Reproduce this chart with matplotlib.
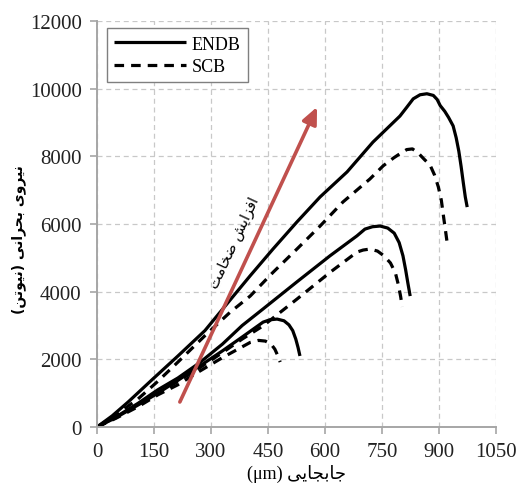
import matplotlib
matplotlib.use("Agg")
import matplotlib.pyplot as plt

# ENDB / SCB force-displacement curves (um, N)
endb_thick_x = [0, 40, 82, 147, 213, 284, 350, 403, 463, 526, 587, 658, 726, 797, 815, 832, 850, 868, 885, 895, 903,
                915, 925, 937, 945, 952, 958, 964, 969, 974]
endb_thick_y = [0, 330, 740, 1420, 2100, 2850, 3750, 4470, 5260, 6060, 6800, 7540, 8420, 9190, 9450, 9700, 9820, 9850,
                9800, 9680, 9500, 9330, 9150, 8900, 8550, 8150, 7700, 7200, 6800, 6500]
scb_thick_x = [0, 50, 108, 160, 213, 284, 350, 403, 463, 526, 587, 647, 718, 753, 780, 800, 815, 830, 845, 862, 876,
               888, 898, 906, 912, 917, 921]
scb_thick_y = [0, 360, 830, 1350, 1920, 2700, 3390, 3870, 4570, 5260, 5940, 6650, 7330, 7720, 7950, 8100, 8200, 8220,
               8100, 7900, 7750, 7450, 7100, 6700, 6200, 5800, 5470]

endb_mid_x = [0, 50, 108, 160, 213, 270, 330, 382, 437, 526, 613, 684, 705, 725, 745, 765, 782, 795, 805, 812, 818, 824]
endb_mid_y = [0, 300, 700, 1100, 1450, 1900, 2450, 3000, 3490, 4290, 5060, 5650, 5850, 5920, 5940, 5880, 5730, 5450,
              5060, 4650, 4250, 3870]
scb_mid_x = [0, 50, 108, 160, 213, 270, 330, 382, 437, 526, 613, 684, 700, 718, 738, 755, 772, 785, 793, 799, 803]
scb_mid_y = [0, 280, 650, 1000, 1350, 1750, 2200, 2600, 2990, 3780, 4570, 5170, 5230, 5260, 5200, 5060, 4850, 4560,
             4200, 3850, 3550]

endb_thin_x = [0, 50, 108, 160, 213, 270, 330, 382, 437, 455, 474, 492, 505, 515, 523, 529, 534]
endb_thin_y = [0, 280, 650, 1000, 1380, 1800, 2250, 2660, 3100, 3170, 3190, 3140, 3020, 2850, 2600, 2350, 2100]
scb_thin_x = [0, 50, 108, 160, 213, 270, 330, 382, 403, 425, 443, 458, 468, 476, 482]
scb_thin_y = [0, 260, 600, 950, 1250, 1650, 2050, 2370, 2500, 2560, 2540, 2450, 2300, 2100, 1920]

x_ticks = [0, 150, 300, 450, 600, 750, 900, 1050]
y_ticks = [0, 2000, 4000, 6000, 8000, 10000, 12000]

arrow_from = (218, 740)
arrow_to = (579, 9460)
arrow_label_at = (362, 5480)

# matplotlib has no Arabic shaping, so build the presentation forms by hand
FORMS = {  # isolated, final, initial, medial
    "ا": ("\uFE8D", "\uFE8E", None, None),
    "ب": ("\uFE8F", "\uFE90", "\uFE91", "\uFE92"),
    "ت": ("\uFE95", "\uFE96", "\uFE97", "\uFE98"),
    "ج": ("\uFE9D", "\uFE9E", "\uFE9F", "\uFEA0"),
    "ح": ("\uFEA1", "\uFEA2", "\uFEA3", "\uFEA4"),
    "خ": ("\uFEA5", "\uFEA6", "\uFEA7", "\uFEA8"),
    "ر": ("\uFEAD", "\uFEAE", None, None),
    "ز": ("\uFEAF", "\uFEB0", None, None),
    "ش": ("\uFEB5", "\uFEB6", "\uFEB7", "\uFEB8"),
    "ض": ("\uFEBD", "\uFEBE", "\uFEBF", "\uFEC0"),
    "ف": ("\uFED1", "\uFED2", "\uFED3", "\uFED4"),
    "م": ("\uFEE1", "\uFEE2", "\uFEE3", "\uFEE4"),
    "ن": ("\uFEE5", "\uFEE6", "\uFEE7", "\uFEE8"),
    "و": ("\uFEED", "\uFEEE", None, None),
    "ی": ("\uFEEF", "\uFEF0", "\uFEF3", "\uFEF4"),
}
DUAL = {k for k, v in FORMS.items() if v[2] is not None}


def fa(text):
    out = []
    for i, c in enumerate(text):
        if c not in FORMS:
            out.append({"(": ")", ")": "("}.get(c, c))
            continue
        prev_join = i > 0 and text[i - 1] in DUAL
        next_join = c in DUAL and i + 1 < len(text) and text[i + 1] in FORMS
        iso, fin, ini, med = FORMS[c]
        if prev_join and next_join:
            out.append(med)
        elif prev_join:
            out.append(fin)
        elif next_join:
            out.append(ini)
        else:
            out.append(iso)
    return "".join(reversed(out))


serif = ["Liberation Serif", "DejaVu Sans"]
fig = plt.figure(figsize=(5.2, 4.89), dpi=100)
ax = fig.add_axes([0.1865, 0.1247, 0.7675, 0.8303])

solid = dict(color="black", linewidth=2.3, solid_capstyle="butt", solid_joinstyle="round")
dashed = dict(color="black", linewidth=2.3, linestyle=(0, (3, 2.2)))
ax.plot(endb_thick_x, endb_thick_y, label="ENDB", **solid)
ax.plot(scb_thick_x, scb_thick_y, label="SCB", **dashed)
ax.plot(endb_mid_x, endb_mid_y, **solid)
ax.plot(scb_mid_x, scb_mid_y, **dashed)
ax.plot(endb_thin_x, endb_thin_y, **solid)
ax.plot(scb_thin_x, scb_thin_y, **dashed)

ax.annotate("", xy=arrow_to, xytext=arrow_from,
            arrowprops=dict(arrowstyle="-|>,head_length=1.0,head_width=0.45",
                            color="#c0504d", linewidth=2.6, shrinkA=0, shrinkB=0))
ax.text(*arrow_label_at, fa("افزایش ضخامت"), rotation=65, rotation_mode="anchor",
        ha="center", va="center", fontsize=10.5, family="DejaVu Sans")

ax.set_xlim(0, 1050)
ax.set_ylim(0, 12000)
ax.set_xticks(x_ticks)
ax.set_yticks(y_ticks)
for lab in ax.get_xticklabels() + ax.get_yticklabels():
    lab.set_family(serif)
    lab.set_fontsize(15)
    lab.set_color("#222222")
ax.tick_params(length=5, width=1.2, color="#a6a6a6", pad=6)
ax.grid(True, linestyle=(0, (4, 3)), color="#c8c8c8", linewidth=0.9)
for side in ("top", "right"):
    ax.spines[side].set_visible(False)
for side in ("left", "bottom"):
    ax.spines[side].set_color("#a6a6a6")
    ax.spines[side].set_linewidth(1.4)

ax.set_xlabel("(μm) " + fa("جابجایی"), family=serif, fontsize=13, labelpad=2)
ax.set_ylabel(fa("نیروی بحرانی (نیوتن)"), family="DejaVu Sans", fontsize=10,
              fontweight="bold")
ax.yaxis.set_label_coords(-0.177, 0.463)

leg = ax.legend(loc="upper left", bbox_to_anchor=(0.025, 0.982), borderaxespad=0,
                handlelength=4.0, fancybox=False, edgecolor="#7f7f7f", framealpha=1,
                prop={"family": serif, "size": 13}, borderpad=0.4,
                handletextpad=0.3, labelspacing=0.3)
leg.get_frame().set_linewidth(1.0)

fig.savefig("out.png", dpi=100)
